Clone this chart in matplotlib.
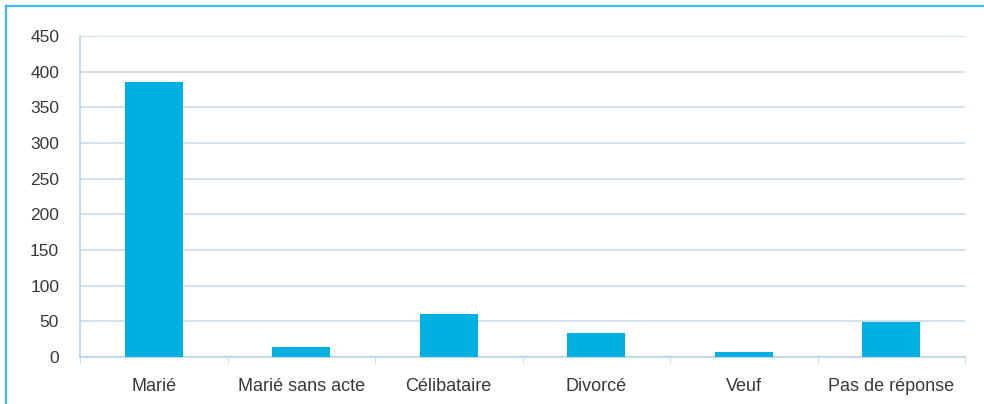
import matplotlib
matplotlib.use("Agg")
import matplotlib.pyplot as plt

categories = ["Marié", "Marié sans acte", "Célibataire", "Divorcé", "Veuf", "Pas de réponse"]
values = [386, 14, 60, 34, 7, 49]
yticks = [0, 50, 100, 150, 200, 250, 300, 350, 400, 450]

plt.rcParams["font.family"] = ["Liberation Sans", "DejaVu Sans"]

fig = plt.figure(figsize=(9.84, 4.04), dpi=100)
fig.patch.set_facecolor("white")

# outer frame: top and left edges in bright blue
fig.add_artist(plt.Line2D([6 / 984, 1.0], [1 - 6 / 404, 1 - 6 / 404], color="#3db9ef", lw=1.6,
                          transform=fig.transFigure))
fig.add_artist(plt.Line2D([6 / 984, 6 / 984], [0, 1 - 6 / 404], color="#3db9ef", lw=1.6,
                          transform=fig.transFigure))

ax = fig.add_axes([80 / 984, 47 / 404, 885 / 984, 321 / 404])
x = range(len(categories))
ax.bar(x, values, width=0.39, color="#00b0e0", zorder=3)

ax.set_xlim(-0.5, len(categories) - 0.5)
ax.set_ylim(0, 450)
ax.set_yticks(yticks)
ax.set_yticklabels([str(v) for v in yticks], fontsize=12.5, color="#383838")
ax.set_xticks(list(x))
ax.set_xticklabels(categories, fontsize=13, color="#383838")
ax.tick_params(axis="x", length=0, pad=15)
ax.tick_params(axis="y", length=0, pad=15)

# category boundary ticks
ax.set_xticks([i - 0.5 for i in range(len(categories) + 1)], minor=True)
ax.tick_params(axis="x", which="minor", length=4, color="#b8d4e8", direction="out")

ax.grid(axis="y", color="#c9dcea", lw=1.2, zorder=0)
for s in ["top", "right"]:
    ax.spines[s].set_visible(False)
ax.spines["left"].set_color("#b8d4e8")
ax.spines["bottom"].set_color("#b8d4e8")
ax.spines["left"].set_linewidth(1.2)
ax.spines["bottom"].set_linewidth(1.2)

fig.savefig("out.png", dpi=100)
